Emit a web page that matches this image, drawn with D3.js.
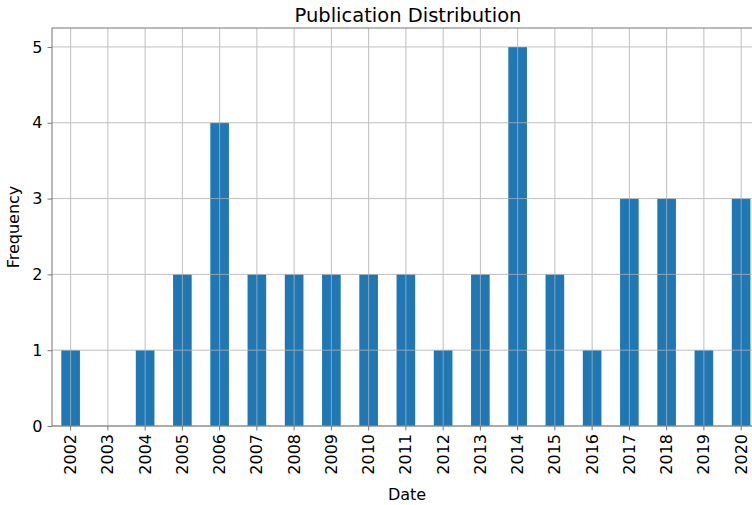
<!DOCTYPE html>
<html><head><meta charset="utf-8">
<script src="https://cdn.jsdelivr.net/npm/d3@7"></script>
<style>body{margin:0;background:#fff}svg{display:block;font-family:"DejaVu Sans",sans-serif}</style>
</head><body><svg id="c" width="752" height="505"></svg>
<script>
const years = ["2002","2003","2004","2005","2006","2007","2008","2009","2010","2011","2012","2013","2014","2015","2016","2017","2018","2019","2020"];
const counts = [1,0,1,2,4,2,2,2,2,2,1,2,5,2,1,3,3,1,3];
const yTicks = [0,1,2,3,4,5];

(function(){
const svg = d3.select("#c");
const mLeft = 52, mTop = 28, mBottom = 426;
const step = 37.25;
const mRight = mLeft + years.length * step;

const x = d3.scaleBand().domain(years).range([mLeft, mRight]).paddingInner(0.5).paddingOuter(0.25);
const y = d3.scaleLinear().domain([0, 5.25]).range([mBottom, mTop]);

svg.append("g").selectAll("rect").data(years).join("rect")
  .attr("x", d => x(d)).attr("width", x.bandwidth())
  .attr("y", (d,i) => y(counts[i])).attr("height", (d,i) => y(0) - y(counts[i]))
  .attr("fill", "#1f77b4");

const grid = svg.append("g").attr("stroke", "#b0b0b0").attr("stroke-width", 1).attr("opacity", 0.8);
grid.selectAll(".v").data(years).join("line")
  .attr("x1", d => x(d) + x.bandwidth()/2).attr("x2", d => x(d) + x.bandwidth()/2)
  .attr("y1", mTop).attr("y2", mBottom);
grid.selectAll(".h").data(yTicks).join("line")
  .attr("x1", mLeft).attr("x2", mRight).attr("y1", d => y(d)).attr("y2", d => y(d));

const xAxis = svg.append("g").attr("transform", `translate(0,${mBottom})`)
  .call(d3.axisBottom(x).tickSize(4.5).tickPadding(4));
xAxis.selectAll("text").attr("transform", "rotate(-90)").attr("text-anchor", "end")
  .attr("x", -8).attr("y", 0).attr("dy", "0.35em");
const yAxis = svg.append("g").attr("transform", `translate(${mLeft},0)`)
  .call(d3.axisLeft(y).tickValues(yTicks).tickFormat(d3.format("d")).tickSize(4.5).tickPadding(5));
[xAxis, yAxis].forEach(a => {
  a.selectAll("text").attr("font-size", 16).attr("fill", "#000").attr("font-family", "DejaVu Sans");
  a.selectAll("line").attr("stroke", "#777");
  a.select(".domain").remove();
});

svg.append("rect").attr("x", mLeft).attr("y", mTop).attr("width", mRight - mLeft).attr("height", mBottom - mTop)
  .attr("fill", "none").attr("stroke", "#777").attr("stroke-width", 1);

svg.append("text").attr("x", 408).attr("y", 22).attr("text-anchor", "middle")
  .attr("font-size", 19.5).text("Publication Distribution");
svg.append("text").attr("x", 407).attr("y", 500).attr("text-anchor", "middle")
  .attr("font-size", 16).text("Date");
svg.append("text").attr("transform", "translate(19,227) rotate(-90)").attr("text-anchor", "middle")
  .attr("font-size", 16).text("Frequency");
})();
</script></body></html>
